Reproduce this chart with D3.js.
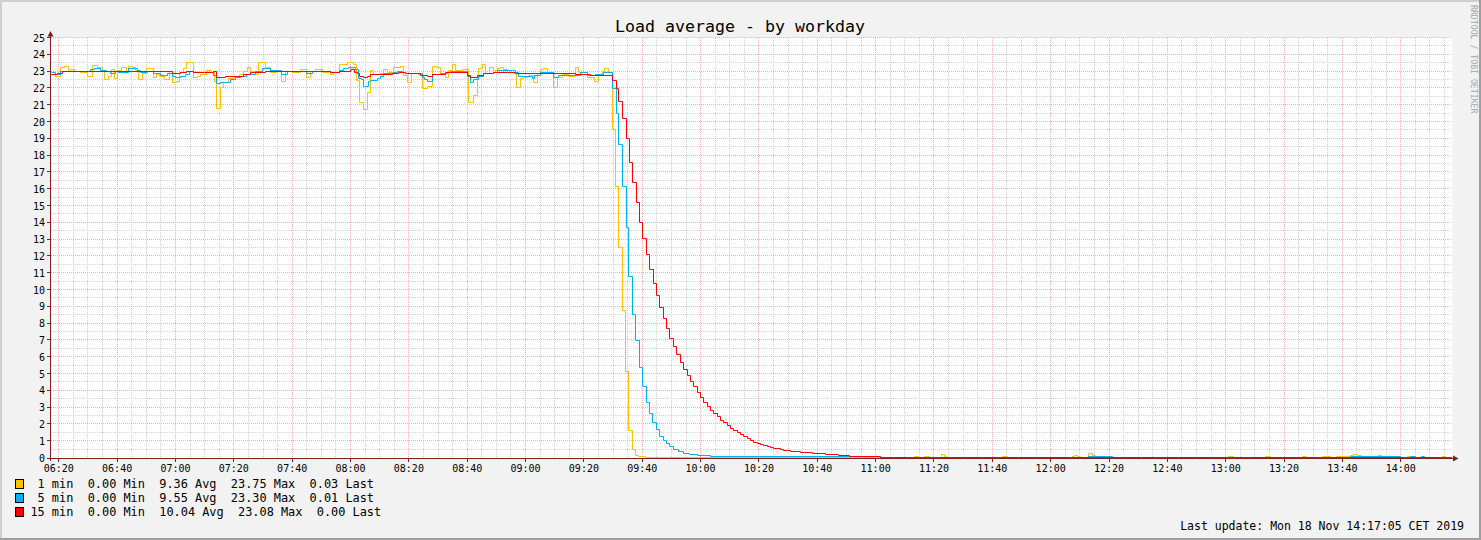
<!DOCTYPE html>
<html><head><meta charset="utf-8">
<script src="https://cdn.jsdelivr.net/npm/d3@7/dist/d3.min.js"></script>
<style>
html,body{margin:0;padding:0;background:#F2F2F2;}
svg{display:block;}
text{font-family:"DejaVu Sans Mono",monospace;white-space:pre;}
</style></head>
<body>
<svg id="c" width="1481" height="540"></svg>
<script>
// ---- data (time = minutes after 06:00, step-after values) ----
const title = "Load average - by workday";
const yTicks = d3.range(0, 26);
const xTickLabels = ["06:20","06:40","07:00","07:20","07:40","08:00","08:20","08:40","09:00","09:20","09:40","10:00","10:20","10:40","11:00","11:20","11:40","12:00","12:20","12:40","13:00","13:20","13:40","14:00"];

const load1Times = [17.5,18.9,20.6,22.0,23.4,24.0,25.4,27.4,29.9,31.5,33.4,34.9,35.7,37.1,38.1,39.2,40.2,41.5,43.2,44.0,45.3,46.3,47.4,48.6,50.0,52.4,53.5,54.6,56.3,58.1,59.1,60.2,61.4,62.6,63.8,66.3,67.4,68.6,70.6,72.2,73.4,74.1,75.4,76.6,78.3,80.0,82.0,83.4,84.6,85.7,87.4,88.5,90.9,92.6,94.6,96.3,97.7,100.1,102.9,104.9,106.3,108.0,110.4,112.5,113.1,114.1,116.3,118.9,120.9,122.0,123.2,124.5,125.7,126.8,128.0,130.0,131.4,132.8,134.8,137.1,138.3,139.6,140.8,142.3,143.4,144.6,146.3,148.0,149.5,150.8,152.6,153.7,154.9,156.0,158.3,160.5,162.3,163.4,164.0,165.1,166.3,167.7,169.1,170.3,171.4,172.5,173.7,176.0,176.9,178.3,179.4,181.1,182.8,184.0,185.1,186.2,187.4,188.5,189.6,190.9,192.7,194.7,197.1,198.1,198.8,201.1,203.6,205.1,206.3,207.2,208.5,209.7,210.8,212.0,213.1,214.3,215.4,216.8,217.7,218.8,221.1,313.3,314.7,316.7,318.5,322.6,323.6,324.3,343.4,345.1,367.4,368.3,369.2,370.2,373.0,374.2,375.4,420.9,422.7,433.6,435.3,446.2,447.7,453.1,455.9,458.0,462.8,463.9,465.1,466.4,471.9,473.3,482.2,483.3,494.2,495.3,497.5];
const load1Values = [22.8,22.7,23.23,23.3,23.0,23.1,23.0,22.9,22.66,23.35,23.2,23.0,22.5,22.66,23.1,22.54,23.05,23.2,22.98,23.3,23.2,23.04,22.5,22.85,23.14,22.6,22.8,22.7,22.5,22.95,22.3,22.4,22.9,23.15,23.5,22.6,22.7,22.8,23.05,22.9,22.4,20.8,22.0,22.35,22.55,22.6,22.8,22.95,23.2,23.0,22.8,23.5,23.2,22.9,23.0,22.4,23.0,22.9,23.1,22.6,23.0,23.1,22.9,23.0,22.78,22.94,23.38,23.54,23.38,22.44,21.15,20.72,21.75,23.04,22.78,22.88,23.1,22.94,23.24,23.3,22.74,22.35,22.88,22.84,22.78,21.95,22.09,23.3,23.24,22.78,22.64,23.04,23.38,23.04,23.1,21.15,21.55,22.64,23.14,23.38,22.88,23.24,23.04,23.14,23.24,23.1,22.94,22.84,22.05,22.58,22.64,22.74,22.35,22.84,23.1,23.18,22.94,22.9,22.0,22.6,22.8,22.7,23.2,22.9,22.93,22.6,22.36,22.8,22.96,23.13,22.9,19.52,16.15,12.48,8.73,5.14,1.61,0.48,0.12,0.03,0,0.08,0,0.08,0,0.15,0.08,0,0.08,0,0.08,0.12,0.08,0,0.24,0.1,0,0.05,0,0.05,0,0.05,0,0.05,0,0.05,0.12,0.2,0.1,0,0.1,0,0.05,0,0.05,0,0.03];

const load5Times = [17.5,18.9,20.6,26.8,29.2,30.9,32.2,34.3,36.4,37.7,39.4,40.5,43.9,47.0,48.0,50.4,52.5,54.9,57.3,59.0,60.0,61.7,63.4,64.8,66.2,71.3,73.0,74.1,75.4,78.9,80.6,82.3,84.3,87.4,89.8,92.6,96.3,98.4,102.9,104.9,107.0,113.1,116.3,117.7,119.4,121.7,122.8,123.7,124.5,126.3,126.8,129.1,130.3,131.4,134.8,136.0,137.7,138.8,144.6,145.4,146.3,148.0,150.8,153.1,154.3,160.0,161.1,162.3,164.0,165.7,169.1,170.3,175.4,176.5,177.7,182.3,183.1,185.1,189.6,191.3,198.8,201.2,204.0,206.7,209.7,211.1,212.0,213.1,214.6,215.4,216.8,217.7,219.0,220.2,221.3,222.6,223.6,224.8,226.0,227.2,228.3,229.4,230.6,232.3,234.0,236.3,238.8,243.4,301.7,373.0,381.1,462.8,479.9,483.3,485.0,487.0,488.1,497.5];
const load5Values = [22.9,22.8,23.0,22.95,23.0,23.1,23.14,23.05,22.95,22.85,23.0,22.9,23.14,23.05,22.9,22.95,22.85,22.75,22.85,22.66,22.6,22.7,22.8,23.0,22.9,22.92,22.75,22.25,22.35,22.5,22.6,22.65,22.8,23.0,23.15,23.05,22.8,22.95,23.0,22.85,22.95,22.94,23.04,23.14,23.24,23.1,22.54,22.5,22.1,22.38,22.44,22.58,22.68,22.84,22.94,23.0,22.94,22.84,22.64,22.5,22.4,22.8,22.84,22.9,22.98,22.7,22.3,22.48,22.7,22.84,22.94,23.02,23.04,22.94,22.7,22.54,22.74,22.9,22.6,22.75,22.9,22.76,22.8,22.92,21.94,20.48,18.61,16.11,13.67,10.79,8.51,6.96,5.34,4.21,3.29,2.6,2.06,1.67,1.27,1.01,0.81,0.64,0.48,0.36,0.26,0.18,0.1,0.03,0,0.03,0,0.03,0,0.03,0,0.03,0,0.01];

const load15Times = [17.5,19.6,21.3,56.6,59.0,61.7,63.8,66.2,73.0,74.1,77.1,79.9,83.3,85.7,90.9,99.4,106.3,113.1,116.3,120.0,121.4,122.3,123.2,124.3,125.7,126.8,134.3,136.5,138.8,144.0,146.3,148.0,152.6,153.7,160.0,161.1,163.4,165.7,169.1,173.7,176.5,197.1,202.3,209.7,211.1,212.0,213.1,214.5,215.6,216.8,217.9,219.0,220.2,221.3,222.6,223.7,224.8,226.0,227.2,228.4,229.5,230.6,231.8,233.1,234.2,235.5,236.5,237.7,238.8,240.0,241.1,242.3,243.4,244.5,245.7,246.8,247.9,249.1,250.2,251.4,252.5,253.7,254.8,256.0,257.1,258.2,259.4,260.5,261.7,262.8,264.0,265.1,266.2,267.4,268.5,269.7,270.8,273.1,274.2,278.3,282.8,287.3,291.0,301.7,497.5];
const load15Values = [22.8,22.85,23.0,22.95,22.85,22.9,22.95,22.9,22.95,22.6,22.65,22.7,22.8,22.9,23.0,22.95,23.0,22.94,23.0,23.08,22.94,22.84,22.7,22.64,22.7,22.8,22.86,22.9,22.84,22.74,22.7,22.8,22.9,22.94,22.74,22.64,22.74,22.84,22.9,22.94,22.84,22.8,22.75,22.46,21.94,21.17,20.16,18.97,17.58,16.35,15.16,14.0,13.02,12.08,11.19,10.36,9.64,8.91,8.25,7.66,7.06,6.59,6.13,5.63,5.24,4.88,4.54,4.21,3.85,3.55,3.29,3.05,2.82,2.6,2.42,2.22,2.06,1.9,1.75,1.61,1.47,1.35,1.23,1.11,1.01,0.91,0.83,0.78,0.72,0.66,0.6,0.56,0.52,0.48,0.44,0.42,0.38,0.34,0.32,0.25,0.2,0.14,0.06,0,0];

const seriesNames = ["1 min","5 min","15 min"];
const seriesColors = ["#FFC000","#00B2F0","#FF0000"];
const legendLines = [
  " 1 min  0.00 Min  9.36 Avg  23.75 Max  0.03 Last",
  " 5 min  0.00 Min  9.55 Avg  23.30 Max  0.01 Last",
  "15 min  0.00 Min  10.04 Avg  23.08 Max  0.00 Last"
];
const lastUpdate = "Last update: Mon 18 Nov 14:17:05 CET 2019";
const watermark = "RRDTOOL / TOBI OETIKER";

// ---- drawing ----
const base = new Date(2019, 10, 18, 6, 0, 0).getTime();
const toDate = m => new Date(base + m * 60000);
const svg = d3.select("#c");
const W = 1481, H = 540;
const L = 51, R = 1451.3, T = 38, B = 458;

// frame
svg.append("rect").attr("x",0).attr("y",0).attr("width",W).attr("height",H).attr("fill","#F2F2F2");
svg.append("path").attr("d",`M1,${H}V1H${W}`).attr("fill","none").attr("stroke","#CFCFCF").attr("stroke-width",2);
svg.append("path").attr("d",`M0,${H-1}H${W-1}V0`).attr("fill","none").attr("stroke","#9E9E9E").attr("stroke-width",2);

const x = d3.scaleTime().domain([toDate(17.5), toDate(497.5)]).range([L, R]);
const y = d3.scaleLinear().domain([0, 25]).range([B, T]);
const px = v => Math.round(x(v)) + 0.5;
const py = v => Math.round(y(v)) - 0.5;

// canvas
svg.append("rect").attr("x",L).attr("y",T).attr("width",R-L+1).attr("height",B-T).attr("fill","#FFFFFF");

const g = svg.append("g");
const minorX = x.ticks(d3.timeMinute.every(5));
const majorX = x.ticks(d3.timeMinute.every(20));
const majorKeys = new Set(majorX.map(d=>+d));
const minorY = d3.range(0.5, 25, 1);
const gridMinor = "#D2D2D2", gridMajor = "#F2AEAE";
// minor grid
g.selectAll(".mvx").data(minorX.filter(d=>!majorKeys.has(+d))).join("line")
  .attr("x1",d=>px(d)).attr("x2",d=>px(d)).attr("y1",T).attr("y2",B)
  .attr("stroke",gridMinor).attr("stroke-dasharray","1,1");
g.selectAll(".mhy").data(minorY).join("line")
  .attr("x1",L).attr("x2",R).attr("y1",d=>py(d)).attr("y2",d=>py(d))
  .attr("stroke",gridMinor).attr("stroke-dasharray","1,1");
// major grid
g.selectAll(".Mvx").data(majorX).join("line")
  .attr("x1",d=>px(d)).attr("x2",d=>px(d)).attr("y1",T).attr("y2",B)
  .attr("stroke",gridMajor).attr("stroke-dasharray","1,1");
g.selectAll(".Mhy").data(yTicks.filter(d=>d>0)).join("line")
  .attr("x1",L).attr("x2",R).attr("y1",d=>py(d)).attr("y2",d=>py(d))
  .attr("stroke",gridMajor).attr("stroke-dasharray","1,1");

// series
const series = [
  {times: load1Times, values: load1Values},
  {times: load5Times, values: load5Values},
  {times: load15Times, values: load15Values}
];
const line = d3.line().x(d=>Math.round(x(d.t))+0.5).y(d=>py(d.v)).curve(d3.curveStepAfter);
series.forEach((s,i)=>{
  const pts = s.times.map((t,j)=>({t: toDate(t), v: s.values[j]}));
  svg.append("path").datum(pts).attr("d",line).attr("fill","none")
    .attr("stroke",seriesColors[i]).attr("stroke-width",1);
});

// axes
const axisColor = "#801F1F";
svg.append("line").attr("x1",50.5).attr("x2",50.5).attr("y1",35).attr("y2",461).attr("stroke",axisColor);
svg.append("line").attr("x1",48).attr("x2",1454).attr("y1",458.5).attr("y2",458.5).attr("stroke",axisColor);
svg.append("path").attr("d","M47.5,36.5L53.5,36.5L50.5,31Z").attr("fill",axisColor);
svg.append("path").attr("d","M1453,455.5L1453,461.5L1458.5,458.5Z").attr("fill",axisColor);
// ticks
svg.selectAll(".yt").data(yTicks).join("line")
  .attr("x1",47).attr("x2",50).attr("y1",d=>py(d)+(d===0?1:0)).attr("y2",d=>py(d)+(d===0?1:0)).attr("stroke",axisColor);
svg.selectAll(".xt").data(majorX).join("line")
  .attr("x1",d=>px(d)).attr("x2",d=>px(d)).attr("y1",459).attr("y2",462).attr("stroke",axisColor);

// tick labels
svg.selectAll(".yl").data(yTicks).join("text")
  .attr("x",45).attr("y",d=>y(d)+3.6).attr("text-anchor","end")
  .attr("font-size",10).attr("fill","#000").text(d=>d);
svg.selectAll(".xl").data(majorX).join("text")
  .attr("x",d=>x(d)+0.5).attr("y",471.5).attr("text-anchor","middle")
  .attr("font-size",10).attr("fill","#000").text((d,i)=>xTickLabels[i] || d3.timeFormat("%H:%M")(d));

// title
svg.append("text").attr("x",740).attr("y",32).attr("text-anchor","middle")
  .attr("font-size",16.6).attr("fill","#000").text(title);

// watermark
svg.append("text").attr("transform","translate(1470.5,5) rotate(90)")
  .attr("font-size",8.2).attr("fill","#A8A8A8").text(watermark);

// legend
legendLines.forEach((s,i)=>{
  const yy = 488 + i*14;
  svg.append("rect").attr("x",15.5).attr("y",yy-8.5).attr("width",8).attr("height",9)
    .attr("fill",seriesColors[i]).attr("stroke","#000").attr("stroke-width",1);
  svg.append("text").attr("x",30.4).attr("y",yy).attr("font-size",11.9).attr("fill","#000").text(s);
});
svg.append("text").attr("x",1464).attr("y",530).attr("text-anchor","end")
  .attr("font-size",11.5).attr("fill","#000").text(lastUpdate);
</script>
</body></html>
